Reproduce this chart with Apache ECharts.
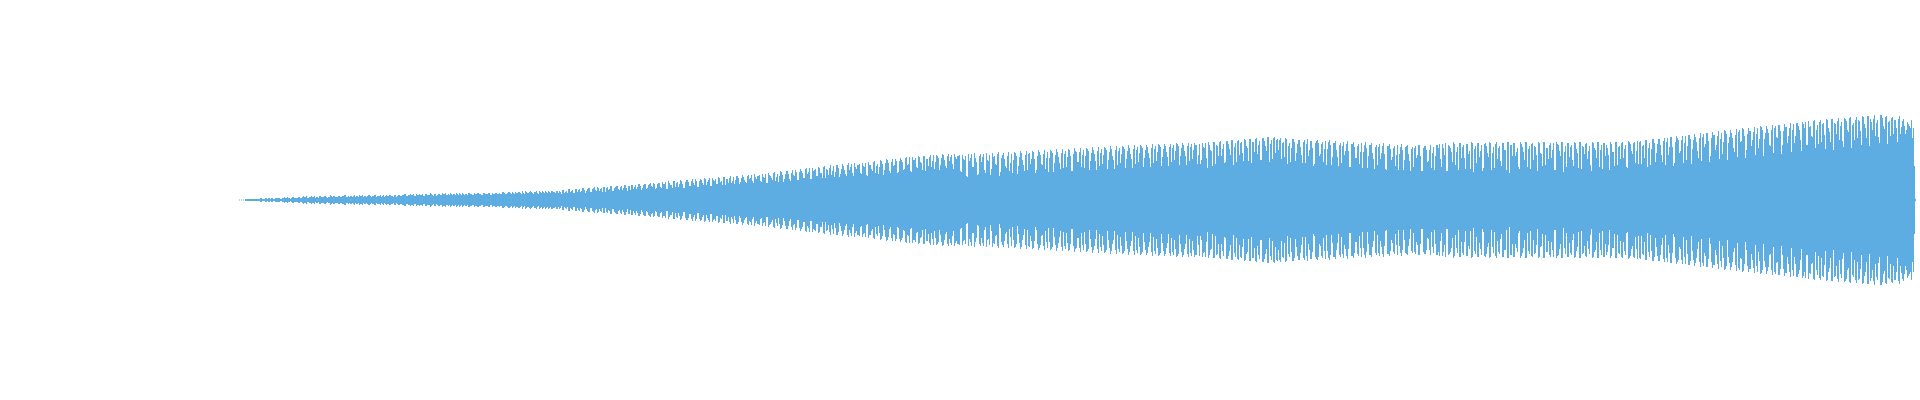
<!DOCTYPE html>
<html>
<head>
<meta charset="utf-8">
<script src="https://cdn.jsdelivr.net/npm/echarts@6/dist/echarts.min.js"></script>
<style>html,body{margin:0;padding:0;background:#fff;}#c{width:1920px;height:400px;}</style>
</head>
<body>
<div id="c"></div>
<script>
// Waveform amplitude, even columns (left to right)
const ampEven = [
0.6,0.6,0.6,1,1,1,1,1,1,1, 1,2,1,2,1,2,2,1,2,2, 2,1,2,2,3,2,2,3,2,2,
3,2,4,3,2,3,4,3,2,3, 4,3,3,4,2,3,4,4,3,3, 4,3,4,5,3,3,4,4,3,4, 5,4,3,4,4,5,3,4,5,4, 4,3,5,4,4,5,4,3,5,4,
5,4,5,6,4,5,5,6,4,5, 6,5,4,6,5,5,6,4,6,5, 6,5,6,7,5,5,6,6,5,6, 7,5,6,6,5,7,6,5,6,7, 6,5,7,6,6,7,5,6,7,6,
7,6,8,6,7,8,6,7,8,7, 8,6,7,9,7,8,8,6,8,7, 9,7,8,9,7,8,9,8,7,9,
9,6,10,8,7,11,9,7,11,8, 11,9,12,7,11,12,8,12,10,13, 9,12,13,8,13,11,14,9,13,14, 10,14,12,15,9,14,15,11,15,13, 16,10,15,16,12,16,14,17,11,16,
17,12,16,18,11,17,15,19,13,18, 16,19,12,18,20,14,19,17,21,13, 19,20,15,21,18,22,14,20,21,16, 22,19,23,15,21,22,17,23,20,24, 16,22,23,18,24,21,25,17,23,24,
25,18,23,26,17,25,22,27,19,26, 24,28,18,26,29,21,27,25,30,20, 28,29,22,31,26,32,21,29,31,24, 32,27,33,22,30,32,25,34,28,35, 23,31,34,26,35,30,36,24,33,35,
36,26,34,37,24,35,31,38,27,36, 33,39,25,37,40,29,38,34,41,27, 39,40,30,42,35,43,28,40,42,32, 43,37,44,29,41,43,33,45,38,44, 30,42,45,34,44,39,45,31,43,44,
45,28,41,44,23,39,46,33,42,25, 44,38,46,27,40,45,31,43,36,46, 24,42,47,34,44,29,46,40,47,26, 43,47,35,45,30,47,41,48,27,44, 48,36,46,31,48,42,49,28,45,48, 37,47,32,49,43,50,29,46,49,38,
48,33,50,44,51,30,47,50,39,49, 34,51,45,52,31,48,51,40,50,35, 52,46,53,32,49,52,41,51,36,53, 47,54,33,50,53,42,52,37,54,48, 55,34,51,54,43,53,38,55,49,56, 35,52,55,44,54,39,56,50,55,36,
56,40,53,57,32,55,49,58,36,54, 58,44,56,38,59,51,60,35,57,59, 45,58,39,60,52,61,37,58,61,46, 59,40,62,54,63,38,60,62,47,61,
60,41,58,62,36,57,52,61,39,56, 60,45,58,37,61,50,59,34,57,60, 44,56,38,59,51,60,35,57,59,43, 55,37,58,49,59,33,56,58,42,54, 36,57,48,58,32,55,57,41,53,35, 56,47,57,31,54,56,40,52,34,55, 46,56,30,53,55,39,51,33,54,45, 55,29,52,54,38,50,32,53,44,55,
56,33,52,57,29,54,48,58,35,53, 57,42,55,31,56,49,58,28,54,57, 43,55,32,57,47,58,30,53,56,41, 54,34,57,50,58,27,55,57,44,52, 31,56,48,58,33,54,56,40,53,29, 57,46,58,35,52,55,42,57,30,56, 49,58,28,54,57,43,55,34,57,47, 58,31,53,56,41,54,29,57,50,58, 33,55,57,44,52,30,56,48,58,35, 54,57,42,55,32,58,49,57,37,59,
58,36,55,60,33,57,51,61,38,56, 61,45,59,35,62,53,63,34,58,62, 47,60,37,64,54,65,36,60,63,49, 62,39,66,56,67,38,62,65,50,64, 41,67,58,69,40,63,67,52,65,43, 70,59,71,42,66,69,54,68,45,72, 61,73,44,67,71,55,70,47,74,62, 75,46,69,73,57,72,48,76,64,77,
70,49,76,78,55,73,64,79,52,75, 78,58,77,51,80,68,81,50,76,79, 60,78,53,81,70,82,52,77,80,62, 79,55,83,72,84,54,78,81,64,80, 57,85,74,83,56,79,82,66,80,58, 84,73,81,66,78,74,80,72
];
// Waveform amplitude, odd columns (left to right)
const ampOdd = [
0,0,0,1,1,1,1,1,1,1, 2,1,1,2,2,1,2,1,2,2, 1,2,3,2,2,1,3,2,2,3,
2,3,3,4,2,3,3,4,3,2, 4,3,4,3,3,5,3,4,3,4, 3,4,5,3,4,4,3,5,4,3, 4,5,4,3,5,4,4,5,3,4, 5,4,3,5,4,5,4,5,3,5,
4,5,6,4,5,6,5,4,6,5, 5,6,4,6,5,7,5,6,4,6, 5,7,6,5,6,7,5,6,7,5, 6,7,5,6,7,6,5,7,6,7, 6,5,7,6,7,5,7,6,7,6,
6,8,7,6,8,7,8,6,7,8, 7,9,6,8,7,9,7,8,9,6, 8,9,7,8,9,7,9,8,9,7,
8,10,7,9,11,8,10,7,11,10, 8,12,10,9,12,8,11,13,9,12, 11,8,13,12,10,14,9,12,14,11, 13,10,15,12,14,10,15,13,11,16, 14,12,16,11,15,17,13,16,12,17,
13,18,16,11,19,15,12,19,17,13, 20,16,12,20,18,14,21,15,19,13, 21,17,22,15,20,14,22,19,16,23, 18,15,23,21,17,24,19,16,24,22, 18,25,20,17,25,22,19,26,21,24,
19,26,22,17,27,24,20,28,23,18, 29,25,21,29,26,19,30,24,28,20, 31,27,22,32,28,21,32,30,24,33, 27,22,34,31,25,35,29,23,35,32, 26,36,30,24,37,33,27,37,31,35,
27,37,33,25,38,35,29,39,34,26, 40,36,30,41,37,27,41,35,39,28, 42,38,31,43,36,29,43,40,33,44, 38,30,44,41,34,45,39,31,45,42, 35,46,40,32,46,43,36,46,41,44,
29,45,40,24,46,42,33,47,38,26, 46,43,30,47,39,25,47,44,35,48, 28,45,41,32,48,37,27,48,44,34, 49,40,29,49,46,36,49,41,30,50, 45,35,50,42,28,50,47,37,51,43, 31,51,46,33,51,44,29,52,48,38,
52,45,32,52,49,39,53,46,30,53, 47,36,53,50,40,54,44,31,54,49, 37,54,51,41,55,46,32,55,50,38, 55,52,42,55,47,33,56,51,39,56, 53,43,56,48,34,56,52,40,57,54, 44,57,49,35,57,53,41,57,55,45,
36,57,52,42,58,50,34,58,55,44, 59,51,37,59,56,45,60,53,38,60, 57,47,61,54,39,61,58,48,62,55, 40,62,59,49,63,56,41,63,60,50,
62,57,43,61,54,38,61,58,47,60, 53,37,60,56,44,59,52,36,59,57, 46,58,51,35,58,55,43,57,50,34, 57,54,45,56,49,33,56,53,42,56, 48,32,55,52,44,55,47,31,55,53, 41,54,46,30,54,51,43,54,45,30, 53,50,40,54,46,29,53,52,42,55, 44,29,54,50,39,55,47,30,55,52,
41,56,45,29,55,52,38,56,48,30, 57,53,42,56,46,31,57,51,37,57, 49,29,56,54,43,57,47,32,58,52, 39,57,50,30,58,55,44,57,48,33, 58,53,40,58,51,31,57,54,45,58, 47,34,58,52,41,57,50,30,58,55, 44,58,48,33,57,53,40,58,51,32, 58,54,46,57,49,35,58,52,42,58, 50,31,57,55,45,58,48,34,58,53, 41,58,51,33,59,56,46,58,49,36,
59,54,42,60,52,35,61,57,47,61, 55,38,62,58,45,63,53,37,64,60, 49,64,57,40,65,61,51,66,58,42, 67,63,53,67,59,44,68,65,55,69, 61,46,70,66,57,70,62,48,71,68, 58,72,64,50,72,69,60,73,66,52, 74,70,61,74,67,54,75,72,63,75, 69,55,76,73,64,77,70,57,77,74,
60,78,72,55,79,74,63,80,70,56, 80,76,65,81,72,58,81,77,66,82, 74,59,82,79,68,83,75,60,83,80, 69,84,76,62,84,81,70,85,77,63, 85,82,71,84,78,64,83,80,72,81, 66,79,74,70,76,72,62,34
];
const closingSample = [1.3];

// columns in drawing order: even, odd, even, odd ...
const amplitudes = [];
const n = Math.min(ampEven.length, ampOdd.length);
for (let i = 0; i < n; i++) { amplitudes.push(ampEven[i]); amplitudes.push(ampOdd[i]); }
closingSample.forEach(v => amplitudes.push(v));
const categories = amplitudes.map((_, i) => i);
const upper = amplitudes.slice();
const lower = amplitudes.map(v => -v);

const COLOR = '#5DADE2';
const chart = echarts.init(document.getElementById('c'), null, {renderer: 'canvas'});
chart.setOption({
  animation: false,
  backgroundColor: '#ffffff',
  grid: {left: 239, top: 0, width: amplitudes.length, height: 400},
  xAxis: {type: 'category', data: categories, show: false, boundaryGap: true},
  yAxis: {type: 'value', min: -200, max: 200, show: false},
  series: [
    {type: 'bar', stack: 'wave', data: upper, barWidth: 1, itemStyle: {color: COLOR}, silent: true},
    {type: 'bar', stack: 'wave', data: lower, barWidth: 1, itemStyle: {color: COLOR}, silent: true}
  ]
});
</script>
</body>
</html>
